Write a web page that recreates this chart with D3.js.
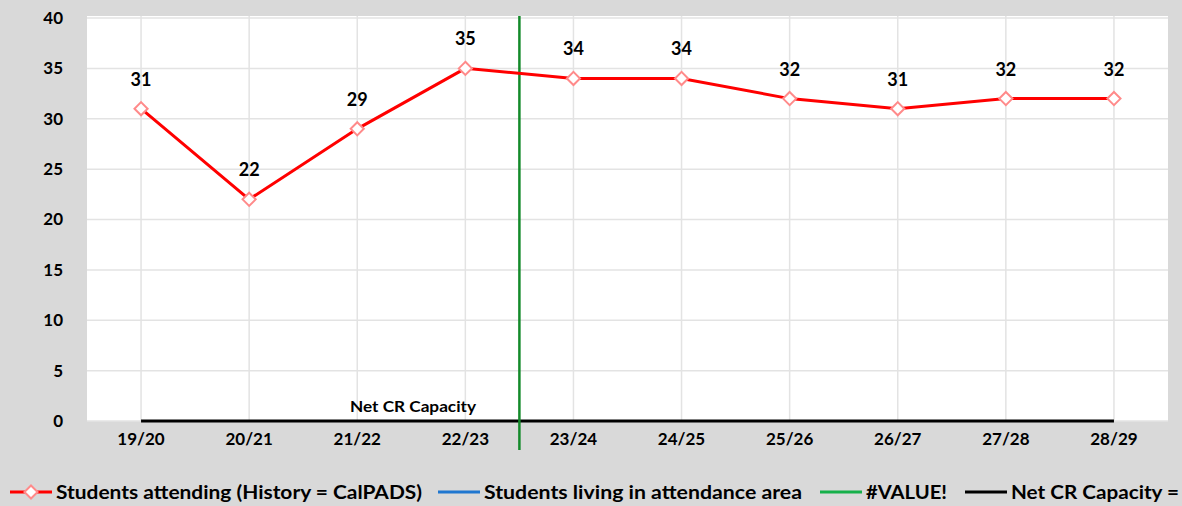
<!DOCTYPE html>
<html>
<head>
<meta charset="utf-8">
<script src="https://cdn.jsdelivr.net/npm/d3@7"></script>
<style>
  body { margin: 0; background: #d9d9d9; }
  svg text { font-family: Lato, "Open Sans", sans-serif; font-weight: 700; fill: #000; }
</style>
</head>
<body>
<svg id="svg" width="1182" height="506"></svg>
<script>
const years = ['19/20', '20/21', '21/22', '22/23', '23/24', '24/25', '25/26', '26/27', '27/28', '28/29'];
const attending = [31, 22, 29, 35, 34, 34, 32, 31, 32, 32];
const capacity = [0, 0, 0, 0, 0, 0, 0, 0, 0, 0];
const yTicks = [0, 5, 10, 15, 20, 25, 30, 35, 40];
const splitYear = '23/24';
const legendItems = [
  { name: 'Students attending (History = CalPADS)', colour: '#ff0000', marker: true },
  { name: 'Students living in attendance area', colour: '#1f77d0', marker: false },
  { name: '#VALUE!', colour: '#16b04a', marker: false },
  { name: 'Net CR Capacity =', colour: '#000000', marker: false }
];

const svg = d3.select('#svg');
const plot = { left: 87, right: 1168, top: 16, bottom: 421 };

svg.append('rect')
  .attr('x', plot.left).attr('y', plot.top)
  .attr('width', plot.right - plot.left).attr('height', plot.bottom - plot.top)
  .attr('fill', '#fff');

const xScale = d3.scaleBand().domain(years).range([plot.left, plot.right]);
const xc = d => xScale(d) + xScale.bandwidth() / 2;
const yScale = d3.scaleLinear().domain([0, 40]).range([plot.bottom, plot.top + 2]);

// gridlines
svg.append('g').selectAll('line.hgrid')
  .data(yTicks)
  .join('line')
  .attr('x1', plot.left).attr('x2', plot.right)
  .attr('y1', d => yScale(d)).attr('y2', d => yScale(d))
  .attr('stroke', '#e3e3e3').attr('stroke-width', 1.5);

svg.append('g').selectAll('line.vgrid')
  .data(years)
  .join('line')
  .attr('x1', d => xc(d)).attr('x2', d => xc(d))
  .attr('y1', plot.top).attr('y2', plot.bottom)
  .attr('stroke', '#e3e3e3').attr('stroke-width', 1.5);

// axes labels
const yAxis = d3.axisLeft(yScale).tickValues(yTicks).tickSize(0).tickPadding(24);
const yAxisG = svg.append('g')
  .attr('transform', `translate(${plot.left},0)`)
  .call(yAxis);
yAxisG.select('path.domain').remove();
yAxisG.selectAll('text').style('font-size', '17px').attr('font-family', null);

const xAxis = d3.axisBottom(xScale).tickSize(0).tickPadding(12);
const xAxisG = svg.append('g')
  .attr('transform', `translate(0,${plot.bottom})`)
  .call(xAxis);
xAxisG.select('path.domain').remove();
xAxisG.selectAll('text').style('font-size', '17px').attr('font-family', null);

// net capacity line
const capLine = d3.line().x((d, i) => xc(years[i])).y(d => yScale(d));
svg.append('path')
  .datum(capacity)
  .attr('d', capLine)
  .attr('fill', 'none')
  .attr('stroke', '#000')
  .attr('stroke-width', 3);

svg.append('text')
  .attr('x', 350)
  .attr('y', yScale(capacity[0]) - 9)
  .attr('textLength', 126)
  .attr('lengthAdjust', 'spacingAndGlyphs')
  .style('font-size', '16px')
  .text('Net CR Capacity');

// split line between history and projection
const splitX = xScale(splitYear);
svg.append('line')
  .attr('x1', splitX).attr('x2', splitX)
  .attr('y1', plot.top).attr('y2', plot.bottom + 29)
  .attr('stroke', '#138a2a')
  .attr('stroke-width', 2.5);

// attending line
const line = d3.line().x((d, i) => xc(years[i])).y(d => yScale(d));
svg.append('path')
  .datum(attending)
  .attr('d', line)
  .attr('fill', 'none')
  .attr('stroke', '#ff0000')
  .attr('stroke-width', 3);

const diamond = d3.symbol().type(d3.symbolDiamond2).size(110);
svg.append('g').selectAll('path.marker')
  .data(attending)
  .join('path')
  .attr('transform', (d, i) => `translate(${xc(years[i])},${yScale(d)})`)
  .attr('d', diamond)
  .attr('fill', '#fff')
  .attr('stroke', '#ff8a8a')
  .attr('stroke-width', 2);

svg.append('g').selectAll('text.lbl')
  .data(attending)
  .join('text')
  .attr('x', (d, i) => xc(years[i]))
  .attr('y', d => yScale(d) - 23)
  .attr('text-anchor', 'middle')
  .style('font-size', '18px')
  .text(d => d);

// legend
const legendX = [10, 438, 820, 965];
const legendW = [366, 318, 81, 168];
const legend = svg.append('g').attr('transform', 'translate(0,492)');
const li = legend.selectAll('g')
  .data(legendItems)
  .join('g')
  .attr('transform', (d, i) => `translate(${legendX[i]},0)`);
li.append('line')
  .attr('x1', 0).attr('x2', 42)
  .attr('stroke', d => d.colour)
  .attr('stroke-width', 3);
li.filter(d => d.marker).append('path')
  .attr('transform', 'translate(21,0)')
  .attr('d', diamond)
  .attr('fill', '#fff')
  .attr('stroke', '#ff8a8a')
  .attr('stroke-width', 2);
li.append('text')
  .attr('x', 46)
  .attr('dy', '0.35em')
  .attr('textLength', (d, i) => legendW[i])
  .attr('lengthAdjust', 'spacingAndGlyphs')
  .style('font-size', '19px')
  .text(d => d.name);
</script>
</body>
</html>
